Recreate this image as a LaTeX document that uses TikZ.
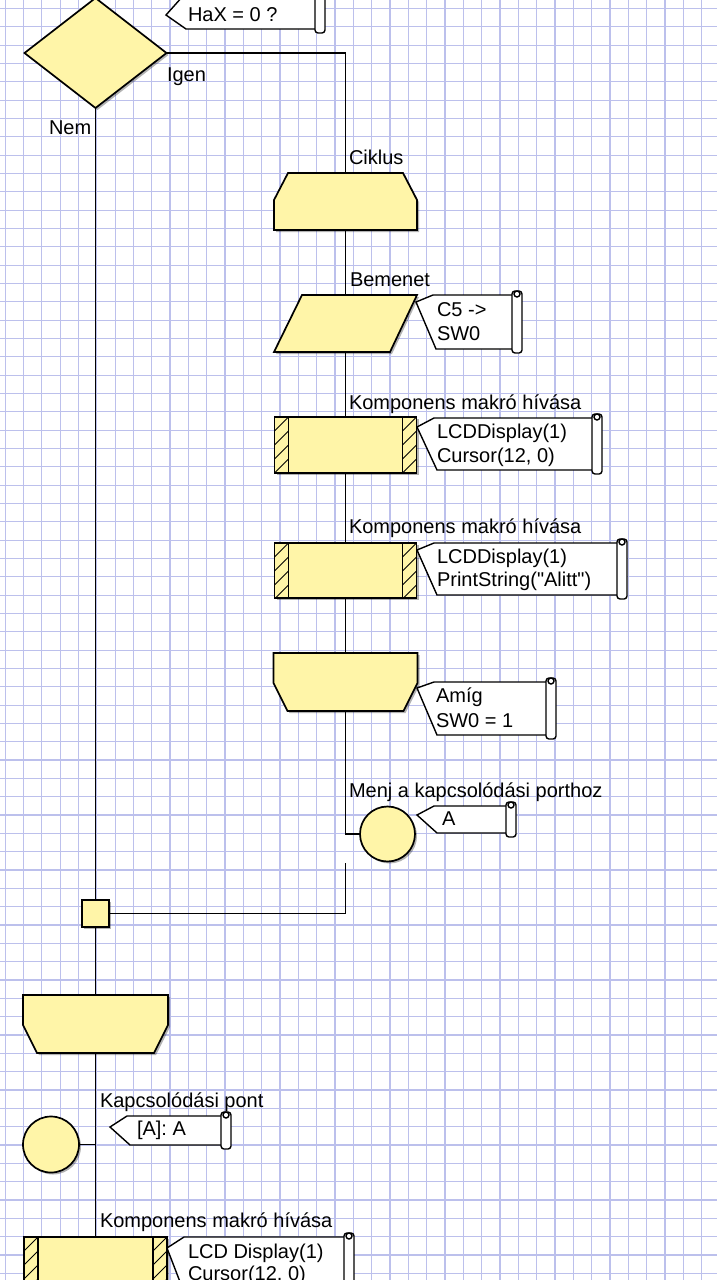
\documentclass[tikz,border=0pt]{standalone}
\usepackage{fontspec}
\setmainfont{Liberation Sans}[Ligatures=TeXOff]
\usetikzlibrary{shapes.geometric,shadows,calc,backgrounds}
\definecolor{flowy}{RGB}{255,245,168}
\definecolor{gridc}{RGB}{188,192,236}
\pgfdeclarelayer{gridl}
\pgfsetlayers{gridl,background,main}
\tikzset{
 shp/.style={draw=black, line width=1.7pt, fill=flowy, drop shadow={shadow xshift=2pt,shadow yshift=-2pt,opacity=.3,fill=black}},
 ph/.style={rectangle, draw=none, inner sep=0pt, outer sep=0pt},
 conn/.style={draw=black, line width=1.7pt},
 cbox/.style={draw=black, line width=1.4pt, fill=white},
 hatch/.style={draw=black, line width=1pt},
 gridline/.style={draw=gridc, line width=1.1pt},
 lbl/.style={anchor=base west, inner sep=0pt, outer sep=0pt, font=\fontsize{20}{24}\selectfont},
}
\newcommand\looptop[1]{\path[shp] ($(#1.north west)+(14,0)$) -- ($(#1.north east)+(-14,0)$) -- ($(#1.north east)+(0,27)$) -- (#1.south east) -- (#1.south west) -- ($(#1.north west)+(0,27)$) -- cycle;}
\newcommand\loopbot[1]{\path[shp] (#1.north west) -- (#1.north east) -- ($(#1.south east)+(0,-28)$) -- ($(#1.south east)+(-14,0)$) -- ($(#1.south west)+(14,0)$) -- ($(#1.south west)+(0,-28)$) -- cycle;}
\newcommand\inputshape[1]{\path[shp] ($(#1.north west)+(28,0)$) -- (#1.north east) -- ($(#1.south east)+(-27,0)$) -- (#1.south west) -- cycle;}
\newcommand\macrobox[1]{%
 \path[shp] (#1.north west) rectangle (#1.south east);
 \draw[conn] ($(#1.north west)+(14,0)$) -- ($(#1.south west)+(14,0)$);
 \draw[conn] ($(#1.north east)+(-14,0)$) -- ($(#1.south east)+(-14,0)$);
 \begin{scope}
  \clip (#1.north west) rectangle ($(#1.south west)+(14,0)$);
  \foreach \k in {0,...,5}{\draw[hatch] ($(#1.north west)+(0,\k*14)$) -- ++(14,-14);}
 \end{scope}
 \begin{scope}
  \clip ($(#1.north east)+(-14,0)$) rectangle (#1.south east);
  \foreach \k in {0,...,5}{\draw[hatch] ($(#1.north east)+(-14,\k*14)$) -- ++(14,-14);}
 \end{scope}
}
\newcommand\cmt[5]{%
 \draw[cbox] (#1,#2) -- ({#1+17},#3) -- (#5,#3) -- (#5,#4) -- ({#1+20},#4) -- cycle;
 \draw[cbox, rounded corners=3pt] ({#5-1},{#3-4}) rectangle ({#5+9},{#4+4});
 \draw[cbox] ({#5+4},{#3-1}) circle (3pt);
}
\begin{document}
\begin{tikzpicture}[x=1pt,y=-1pt]
\useasboundingbox (0,0) rectangle (717,1280);
\begin{pgfonlayer}{gridl}
 \fill[white] (0,0) rectangle (717,1280);
 \foreach \i in {0,...,39} \draw[gridline] ({5.07+18.33*\i},0) -- ({5.07+18.33*\i},1280);
 \foreach \j in {0,...,69} \draw[gridline] (0,{8.5+18.33*\j}) -- (717,{8.5+18.33*\j});
\end{pgfonlayer}

% placeholders / nodes
\node[shp, diamond, minimum width=142pt, minimum height=110pt, inner sep=0pt, outer sep=0pt] (dec) at (95.5,53) {};
\node[ph, minimum width=143pt, minimum height=57pt] (loop1) at (345.5,201.5) {};
\node[ph, minimum width=143pt, minimum height=57pt] (in) at (345.5,323.5) {};
\node[ph, minimum width=142pt, minimum height=56pt] (m1) at (345.5,445) {};
\node[ph, minimum width=142pt, minimum height=55pt] (m2) at (345.5,570.5) {};
\node[ph, minimum width=144pt, minimum height=58pt] (le1) at (345.5,682) {};
\node[shp, circle, minimum size=55pt, inner sep=0pt, outer sep=0pt] (goto) at (387.5,834) {};
\coordinate (cut) at (345.5,863);
\node[shp, rectangle, minimum size=27pt, inner sep=0pt, outer sep=0pt] (jn) at (95.5,913.5) {};
\node[ph, minimum width=145pt, minimum height=58pt] (le2) at (95.5,1024) {};
\node[shp, circle, minimum size=56pt, inner sep=0pt, outer sep=0pt] (cp) at (51,1144.5) {};
\node[ph, minimum width=143pt, minimum height=56pt] (m3) at (95.5,1265) {};

% connectors
\begin{pgfonlayer}{background}
 \draw[conn] (dec.east) -| (loop1.north);
 \draw[conn] (loop1.south) -- (in.north);
 \draw[conn] (in.south) -- (m1.north);
 \draw[conn] (m1.south) -- (m2.north);
 \draw[conn] (m2.south) -- (le1.north);
 \draw[conn] (le1.south) |- (goto.west);
 \draw[conn] (cut) |- (jn.east);
 \draw[conn] (dec.south) -- (jn.north);
 \draw[conn] (jn.south) -- (le2.north);
 \draw[conn] (le2.south) -- (m3.north);
 \draw[conn] (cp.east) -- (cp.east -| le2.south);
\end{pgfonlayer}

% shapes
\looptop{loop1}
\inputshape{in}
\macrobox{m1}
\macrobox{m2}
\loopbot{le1}
\loopbot{le2}
\macrobox{m3}

% comments
\cmt{166}{15}{-4}{29}{316}
\cmt{416}{302}{295}{349}{513}
\cmt{417}{427}{418}{470}{593}
\cmt{417}{550}{543}{595}{618}
\cmt{417}{688}{682}{735}{547}
\cmt{417}{815}{806}{833}{507}
\cmt{110}{1127}{1116}{1145}{222}
\cmt{167}{1248}{1237}{1300}{345}

% texts
\node[lbl] (tIgen) at (167,81) {Igen};
\node[lbl] (tNem) at (49,134) {Nem};
\node[lbl] (tq) at (188,21) {HaX = 0 ?};
\node[lbl] (tcik) at (349,164) {Ciklus};
\node[lbl] (tbem) at (350,286) {Bemenet};
\node[lbl] (tc5) at (437,316) {C5 ->};
\node[lbl] (tsw) at (437,340) {SW0};
\node[lbl] (tk1) at (349,409) {Komponens makró hívása};
\node[lbl] (tl1a) at (437,438) {LCDDisplay(1)};
\node[lbl] (tl1b) at (437,462) {Cursor(12, 0)};
\node[lbl] (tk2) at (349,533) {Komponens makró hívása};
\node[lbl] (tl2a) at (437,563) {LCDDisplay(1)};
\node[lbl] (tl2b) at (437,586) {PrintString("Alitt")};
\node[lbl] (tam) at (436,702) {Amíg};
\node[lbl] (tsw1) at (436,727) {SW0 = 1};
\node[lbl] (tmenj) at (349,797) {Menj a kapcsolódási porthoz};
\node[lbl] (tA) at (442,825) {A};
\node[lbl] (tkp) at (100,1107) {Kapcsolódási pont};
\node[lbl] (tAA) at (137,1135) {[A]: A};
\node[lbl] (tk3) at (100,1227) {Komponens makró hívása};
\node[lbl] (tl3a) at (188,1258) {LCD Display(1)};
\node[lbl] (tl3b) at (188,1280) {Cursor(12, 0)};
\end{tikzpicture}
\end{document}
